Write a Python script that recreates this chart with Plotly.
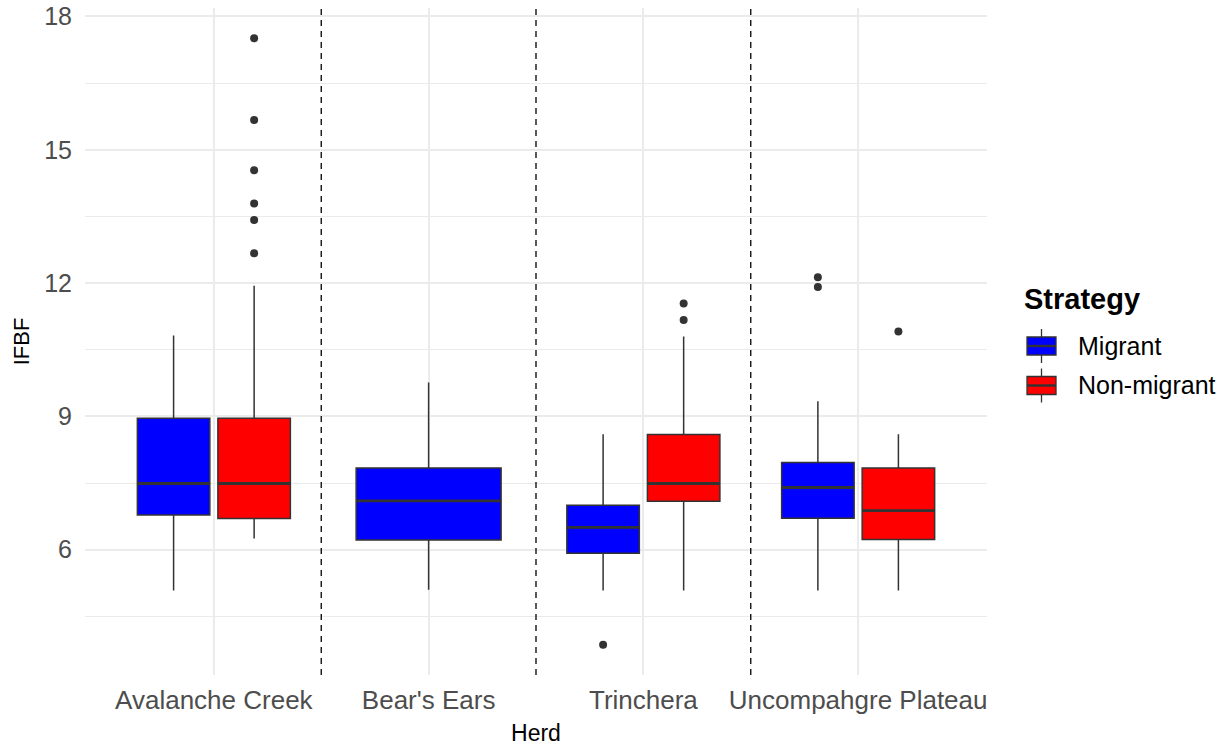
import plotly.graph_objects as go

# ---------------- data ----------------
herds = ["Avalanche Creek", "Bear's Ears", "Trinchera", "Uncompahgre Plateau"]
strategies = ["Migrant", "Non-migrant"]
colors = {"Migrant": "#0000FF", "Non-migrant": "#FF0000"}

mig_herds = ["Avalanche Creek", "Bear's Ears", "Trinchera", "Uncompahgre Plateau"]
mig_lower = [5.08, 5.10, 5.08, 5.08]
mig_q1 = [6.78, 6.22, 5.92, 6.71]
mig_median = [7.49, 7.10, 6.50, 7.40]
mig_q3 = [8.96, 7.84, 7.00, 7.96]
mig_upper = [10.82, 9.76, 8.60, 9.34]
mig_outliers = [[], [], [3.86], [12.13, 11.91]]

non_herds = ["Avalanche Creek", "Trinchera", "Uncompahgre Plateau"]
non_lower = [6.25, 5.08, 5.08]
non_q1 = [6.70, 7.09, 6.23]
non_median = [7.49, 7.49, 6.88]
non_q3 = [8.96, 8.59, 7.84]
non_upper = [11.94, 10.80, 8.60]
non_outliers = [[17.51, 15.67, 14.54, 13.79, 13.42, 12.67], [11.54, 11.17], [10.91]]

y_ticks = [6, 9, 12, 15, 18]
y_minor = [4.5, 7.5, 10.5, 13.5, 16.5]

series = {
    "Migrant": dict(herds=mig_herds, lower=mig_lower, q1=mig_q1, median=mig_median,
                    q3=mig_q3, upper=mig_upper, outliers=mig_outliers),
    "Non-migrant": dict(herds=non_herds, lower=non_lower, q1=non_q1, median=non_median,
                        q3=non_q3, upper=non_upper, outliers=non_outliers),
}

# ---------------- dodge layout (ggplot-like) ----------------
TOTAL_W = 0.75
PAD = 0.9
herd_pos = {h: i + 1 for i, h in enumerate(herds)}
present = {h: [s for s in strategies if h in series[s]["herds"]] for h in herds}


def dodge(h, s):
    grp = present[h]
    n = len(grp)
    slot = TOTAL_W / n
    k = grp.index(s)
    center = herd_pos[h] - TOTAL_W / 2 + slot * (k + 0.5)
    return center, slot * PAD


fig = go.Figure()
line_col = "#333333"

for s in strategies:
    d = series[s]
    med_x, med_y, out_x, out_y = [], [], [], []
    for i, h in enumerate(d["herds"]):
        c, w = dodge(h, s)
        fig.add_trace(go.Box(
            x=[c], q1=[d["q1"][i]], median=[d["median"][i]], q3=[d["q3"][i]],
            lowerfence=[d["lower"][i]], upperfence=[d["upper"][i]],
            width=w, fillcolor=colors[s], line=dict(color=line_col, width=1.5),
            whiskerwidth=0, boxpoints=False, showlegend=False, name=s,
            hoverinfo="skip",
        ))
        med_x += [c - w / 2, c + w / 2, None]
        med_y += [d["median"][i], d["median"][i], None]
        for v in d["outliers"][i]:
            out_x.append(c)
            out_y.append(v)
    fig.add_trace(go.Scatter(x=med_x, y=med_y, mode="lines",
                             line=dict(color=line_col, width=2.8),
                             showlegend=False, hoverinfo="skip"))
    fig.add_trace(go.Scatter(x=out_x, y=out_y, mode="markers",
                             marker=dict(color=line_col, size=8),
                             showlegend=False, hoverinfo="skip"))

# dashed separators between herds
for i in range(len(herds) - 1):
    xm = (herd_pos[herds[i]] + herd_pos[herds[i + 1]]) / 2
    fig.add_shape(type="line", xref="x", yref="paper", x0=xm, x1=xm, y0=0, y1=1,
                  line=dict(color="black", width=1.3, dash="6px,5px"))

# ---------------- layout ----------------
L, R, T, B = 85, 241, 8, 71
W, H = 1228, 746
PW, PH = W - L - R, H - T - B
FONT = "Liberation Sans, Arial, sans-serif"


def px(xpix):
    return (xpix - L) / PW


def py(ypix):
    return (H - B - ypix) / PH


# custom ggplot-style legend
fig.add_annotation(x=px(1022), y=py(299), xref="paper", yref="paper", text="<b>Strategy</b>",
                   showarrow=False, xanchor="left", yanchor="middle",
                   font=dict(family=FONT, size=29, color="black"))
for k, s in enumerate(strategies):
    cy = 346 + k * 39.5
    kx0, kx1, kxc = 1027, 1056, 1041.5
    fig.add_shape(type="line", xref="paper", yref="paper", x0=px(kxc), x1=px(kxc),
                  y0=py(cy - 17), y1=py(cy + 17), line=dict(color=line_col, width=1.3))
    fig.add_shape(type="rect", xref="paper", yref="paper", x0=px(kx0), x1=px(kx1),
                  y0=py(cy - 9), y1=py(cy + 9), fillcolor=colors[s],
                  line=dict(color=line_col, width=1.3))
    fig.add_shape(type="line", xref="paper", yref="paper", x0=px(kx0), x1=px(kx1),
                  y0=py(cy), y1=py(cy), line=dict(color=line_col, width=2.4))
    fig.add_annotation(x=px(1076), y=py(cy), xref="paper", yref="paper", text=s,
                       showarrow=False, xanchor="left", yanchor="middle",
                       font=dict(family=FONT, size=25, color="black"))

grid = "#EBEBEB"
fig.update_layout(
    width=W, height=H,
    margin=dict(l=L, r=R, t=T, b=B),
    paper_bgcolor="white", plot_bgcolor="white",
    showlegend=False,
    font=dict(family=FONT),
    xaxis=dict(
        range=[0.4, 4.6], tickvals=[herd_pos[h] for h in herds], ticktext=herds,
        showgrid=True, gridcolor=grid, gridwidth=1.5, zeroline=False, showline=False,
        ticks="", ticklabelstandoff=7,
        tickfont=dict(family=FONT, size=26, color="#4D4D4D"),
        title=dict(text="Herd", font=dict(family=FONT, size=23, color="black"), standoff=10),
        automargin=False,
    ),
    yaxis=dict(
        range=[3.18, 18.19], tickvals=y_ticks,
        showgrid=True, gridcolor=grid, gridwidth=1.5, zeroline=False, showline=False,
        ticks="", ticklabelstandoff=12,
        tickfont=dict(family=FONT, size=25, color="#4D4D4D"),
        minor=dict(tickvals=y_minor, showgrid=True, gridcolor=grid, gridwidth=1),
        title=dict(text="IFBF", font=dict(family=FONT, size=22, color="black"), standoff=8),
        automargin=False,
    ),
)

fig.write_html("out.html")
